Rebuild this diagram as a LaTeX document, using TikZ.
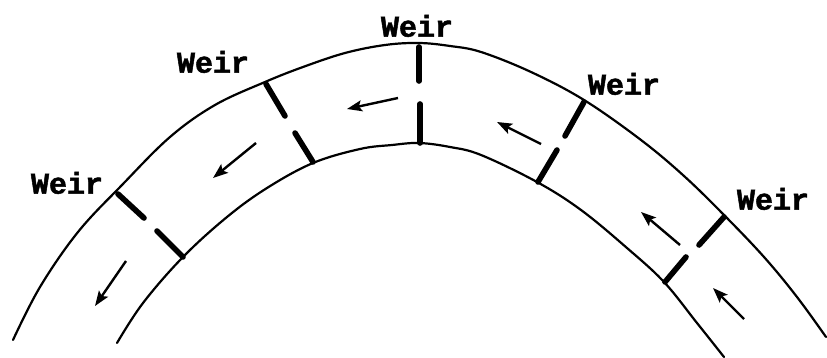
\documentclass[tikz,border=0pt]{standalone}
\usepackage{fontspec}
\setmonofont[BoldFeatures={FakeBold=1.6}]{Liberation Mono}
\usetikzlibrary{arrows.meta}
\tikzset{
  bank/.style={line width=2.2pt,line cap=round,line join=round},
  weirbar/.style={line width=5.6pt,line cap=round},
  flowarrow/.style={line width=2.4pt,-{Stealth[length=15pt,width=11pt,inset=3pt]}},
  weirlabel/.style={font=\ttfamily\bfseries\fontsize{30}{30}\selectfont,inner sep=0pt,text=black}
}
\begin{document}
\begin{tikzpicture}[x=1pt,y=-1pt]
\useasboundingbox (0,0) rectangle (827,358);
\draw[bank] plot[smooth,tension=0.6] coordinates {(13,340) (40,287) (78,232) (122,185) (170,137) (215,105) (265,82) (303,67) (345,53) (385,45) (419,43) (450,46) (481,52) (531,72) (584,100) (641,140) (684,176) (724,215) (764,257) (797,297) (826,337)};
\draw[bank] plot[smooth,tension=0.6] coordinates {(117,343) (143,303) (183,257) (227,217) (267,188) (313,163) (360,149) (392,145) (419,143) (450,147) (481,155) (537,182) (581,210) (627,248) (664,282) (697,323) (724,357)};
\coordinate (w1a) at (419,47); \coordinate (w1b) at (419,81);
\coordinate (w1c) at (420,104); \coordinate (w1d) at (420,143);
\coordinate (w2a) at (266,84); \coordinate (w2b) at (285,116);
\coordinate (w2c) at (295,133); \coordinate (w2d) at (313,162);
\coordinate (w3a) at (118,194); \coordinate (w3b) at (144,218);
\coordinate (w3c) at (157,231); \coordinate (w3d) at (183,257);
\coordinate (w4a) at (584,102); \coordinate (w4b) at (565,136);
\coordinate (w4c) at (557,150); \coordinate (w4d) at (538,182);
\coordinate (w5a) at (724,217); \coordinate (w5b) at (699,245);
\coordinate (w5c) at (686,257); \coordinate (w5d) at (665,282);
\foreach \n in {1,...,5} {
  \draw[weirbar] (w\n a) -- (w\n b);
  \draw[weirbar] (w\n c) -- (w\n d);
}
\coordinate (a1t) at (398,98); \coordinate (a1h) at (347,109);
\coordinate (a2t) at (256,143); \coordinate (a2h) at (213,178);
\coordinate (a3t) at (126,261); \coordinate (a3h) at (95,306);
\coordinate (a4t) at (541,144); \coordinate (a4h) at (497,122);
\coordinate (a5t) at (680,245); \coordinate (a5h) at (641,212);
\coordinate (a6t) at (744,319); \coordinate (a6h) at (713,288);
\foreach \n in {1,...,6} { \draw[flowarrow] (a\n t) -- (a\n h); }
\node[weirlabel] (l1) at (417,26) {Weir};
\node[weirlabel] (l2) at (213,62) {Weir};
\node[weirlabel] (l3) at (67,183) {Weir};
\node[weirlabel] (l4) at (624,84) {Weir};
\node[weirlabel] (l5) at (773,199) {Weir};
\end{tikzpicture}
\end{document}
